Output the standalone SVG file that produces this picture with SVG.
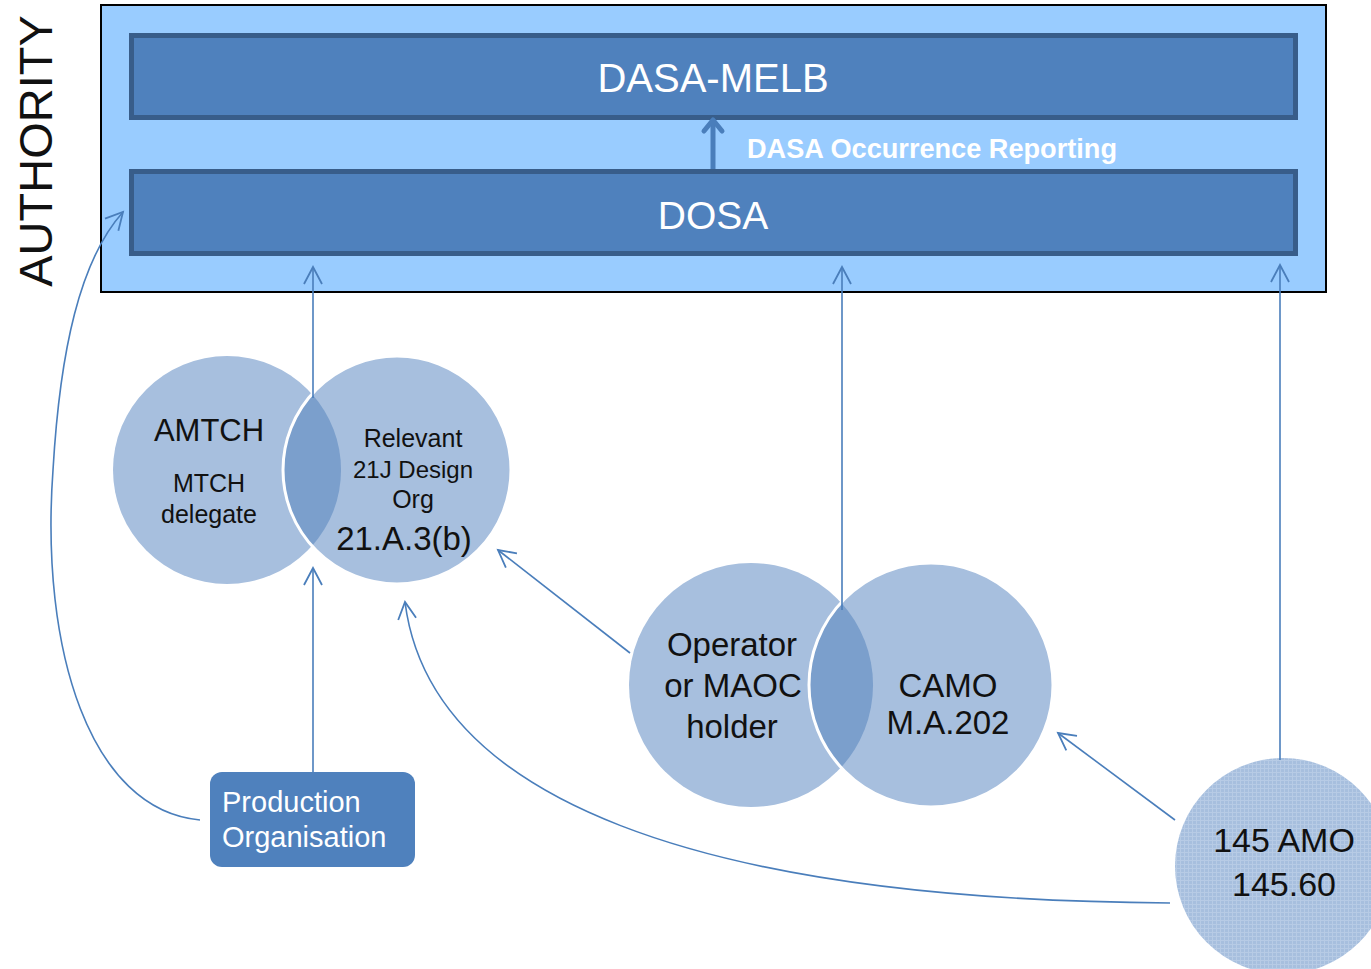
<svg xmlns="http://www.w3.org/2000/svg" width="1371" height="969" viewBox="0 0 1371 969">
<defs>
<style>
text{font-family:"Liberation Sans",Arial,sans-serif;}
.dark{fill:#111;}
.wh{fill:#fff;}
.bar{fill:#4f81bd;stroke:#385d8a;stroke-width:5;}
.circ{fill:#a7bfde;}
.lens{fill:#7b9fcc;}
.sep{fill:none;stroke:#fff;stroke-width:3;}
.con{fill:none;stroke:#4a7ebb;stroke-width:1.6;}
</style>
<marker id="ah" viewBox="-20 -12 24 24" markerWidth="24" markerHeight="24" refX="0" refY="0" orient="auto" markerUnits="userSpaceOnUse">
<path d="M-17,-9 L0,0 L-17,9" fill="none" stroke="#4a7ebb" stroke-width="1.8"/>
</marker>
<pattern id="dots" width="4" height="4" patternUnits="userSpaceOnUse">
<rect width="4" height="4" fill="#a7bfde"/>
<rect x="0" y="0" width="1" height="4" fill="#b7cbe5"/>
<rect x="0" y="0" width="4" height="1" fill="#b7cbe5"/>
</pattern>
</defs>
<rect width="1371" height="969" fill="#fff"/>

<g id="authority-label">
<text transform="translate(52,151) rotate(-90)" text-anchor="middle" font-size="47" class="dark">AUTHORITY</text>
</g>

<g id="authority">
<rect x="101" y="5" width="1225" height="287" fill="#99ccff" stroke="#000" stroke-width="2"/>
</g>

<g id="dasa-melb">
<rect class="bar" x="131.5" y="35.5" width="1164" height="82"/>
<text x="713" y="92" text-anchor="middle" font-size="40" class="wh">DASA-MELB</text>
</g>

<g id="dosa">
<rect class="bar" x="131.5" y="171.5" width="1164" height="82"/>
<text x="713" y="229" text-anchor="middle" font-size="39" class="wh">DOSA</text>
</g>

<g id="amtch-design">
<circle class="circ" cx="227" cy="470" r="114"/>
<circle class="circ" cx="397" cy="470" r="114"/>
<path class="lens" d="M312,394 A114,114 0 0 1 312,546 A114,114 0 0 1 312,394 Z"/>
<circle class="sep" cx="397" cy="470" r="114"/>
<text x="209" y="441" text-anchor="middle" font-size="31" class="dark">AMTCH</text>
<text x="209" y="492" text-anchor="middle" font-size="25" class="dark">MTCH</text>
<text x="209" y="523" text-anchor="middle" font-size="25" class="dark">delegate</text>
<text x="413" y="447" text-anchor="middle" font-size="25" class="dark">Relevant</text>
<text x="413" y="478" text-anchor="middle" font-size="24" class="dark">21J Design</text>
<text x="413" y="508" text-anchor="middle" font-size="25" class="dark">Org</text>
<text x="404" y="550" text-anchor="middle" font-size="33" class="dark">21.A.3(b)</text>
</g>

<g id="operator-camo">
<circle class="circ" cx="751" cy="685" r="122"/>
<circle class="circ" cx="931" cy="685" r="122"/>
<path class="lens" d="M841,602.6 A122,122 0 0 1 841,767.4 A122,122 0 0 1 841,602.6 Z"/>
<circle class="sep" cx="931" cy="685" r="122"/>
<text x="732" y="656" text-anchor="middle" font-size="33" class="dark">Operator</text>
<text x="733" y="697" text-anchor="middle" font-size="33" class="dark">or MAOC</text>
<text x="732" y="738" text-anchor="middle" font-size="33" class="dark">holder</text>
<text x="948" y="697" text-anchor="middle" font-size="33" class="dark">CAMO</text>
<text x="948" y="734" text-anchor="middle" font-size="33" class="dark">M.A.202</text>
</g>

<g id="amo145">
<circle cx="1283" cy="866" r="108" fill="url(#dots)"/>
<text x="1284" y="852" text-anchor="middle" font-size="34" class="dark">145 AMO</text>
<text x="1284" y="896" text-anchor="middle" font-size="34" class="dark">145.60</text>
</g>

<g id="production-org">
<rect x="210" y="772" width="205" height="95" rx="12" fill="#4f81bd"/>
<text x="222" y="812" font-size="29" class="wh">Production</text>
<text x="222" y="847" font-size="29" class="wh">Organisation</text>
</g>

<g id="connectors">
<g id="dasa-occurrence-reporting">
<line x1="713" y1="169" x2="713" y2="121" stroke="#4a7ebb" stroke-width="5"/>
<path d="M704,131 L713,120 L722,131" fill="none" stroke="#4a7ebb" stroke-width="5" stroke-linecap="round" stroke-linejoin="round"/>
<text x="747" y="158" font-size="27" font-weight="bold" class="wh" textLength="370" lengthAdjust="spacingAndGlyphs">DASA Occurrence Reporting</text>
</g>
<line class="con" x1="313" y1="398" x2="313" y2="267" marker-end="url(#ah)"/>
<line class="con" x1="313" y1="772" x2="313" y2="568" marker-end="url(#ah)"/>
<line class="con" x1="842" y1="610" x2="842" y2="267" marker-end="url(#ah)"/>
<line class="con" x1="1280" y1="760" x2="1280" y2="265" marker-end="url(#ah)"/>
<line class="con" x1="630" y1="653" x2="498" y2="550" marker-end="url(#ah)"/>
<line class="con" x1="1175" y1="820" x2="1058" y2="733" marker-end="url(#ah)"/>
<path class="con" d="M1170,903 C700,900 430,800 405,602" marker-end="url(#ah)"/>
<path class="con" d="M200,820 C90,810 40,650 53,470 C60,350 80,260 123,212" marker-end="url(#ah)"/>
</g>
</svg>
